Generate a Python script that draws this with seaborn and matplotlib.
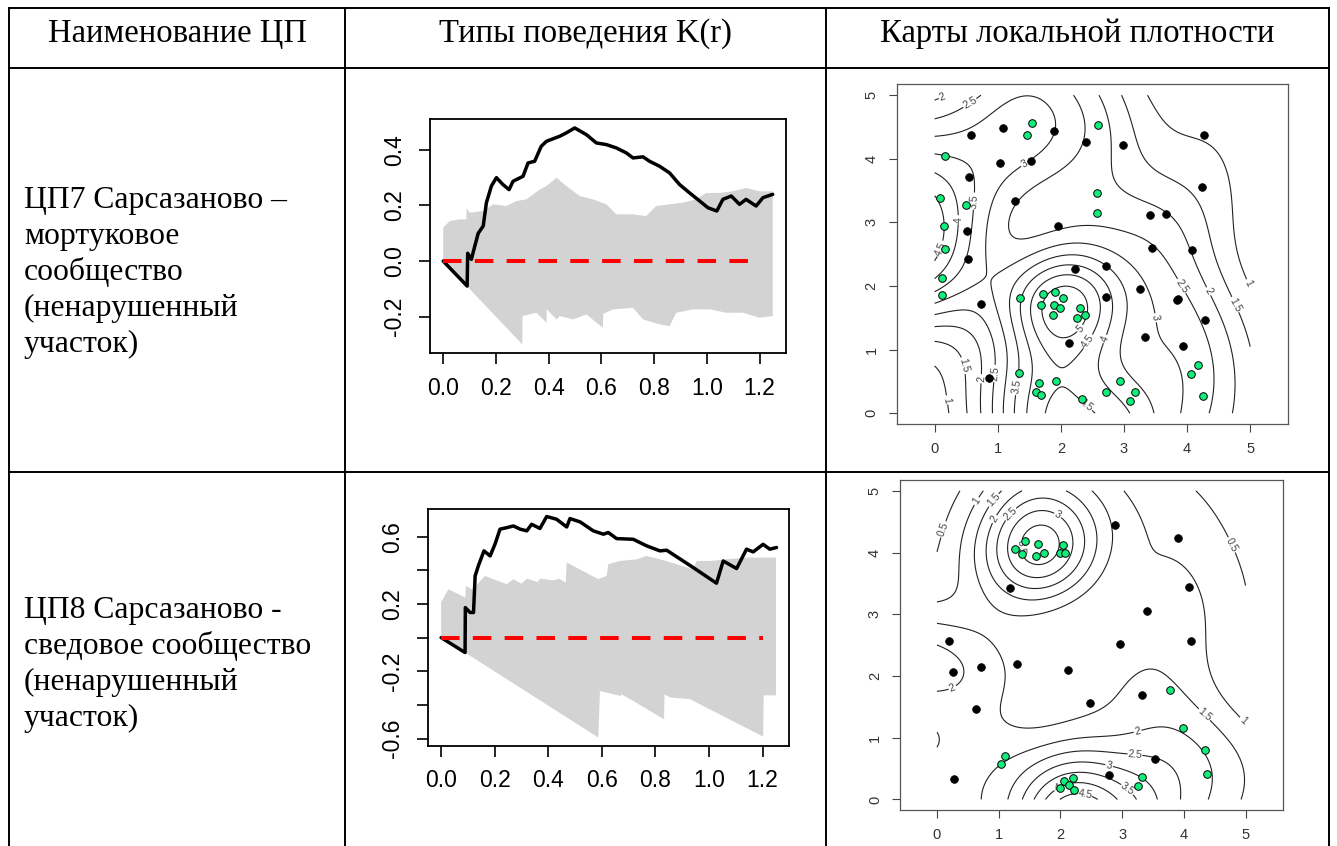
import math
import numpy as np
import pandas as pd
import matplotlib
matplotlib.use("Agg")
import matplotlib.pyplot as plt
import seaborn as sns

# ---------------------------------------------------------------- table text
headers = ["Наименование ЦП", "Типы поведения K(r)", "Карты локальной плотности"]
row1_lines = ["ЦП7 Сарсазаново –", "мортуковое", "сообщество", "(ненарушенный", "участок)"]
row2_lines = ["ЦП8 Сарсазаново -", "сведовое сообщество", "(ненарушенный", "участок)"]

# ---------------------------------------------------------------- K(r), ЦП7
k7_obs_r = [0, 0.091, 0.093, 0.107, 0.120, 0.133, 0.152, 0.164, 0.183, 0.202, 0.227,
            0.250, 0.265, 0.303, 0.322, 0.347, 0.372, 0.392, 0.442, 0.467, 0.499,
            0.543, 0.581, 0.619, 0.657, 0.695, 0.720, 0.758, 0.783, 0.821, 0.859,
            0.897, 0.935, 0.973, 1.004, 1.038, 1.061, 1.093, 1.124, 1.149, 1.187,
            1.213, 1.25]
k7_obs_v = [0, -0.09, 0.028, 0.006, 0.054, 0.10, 0.126, 0.21, 0.27, 0.30, 0.275,
            0.257, 0.287, 0.305, 0.353, 0.359, 0.413, 0.431, 0.449, 0.461, 0.479,
            0.455, 0.425, 0.419, 0.407, 0.389, 0.371, 0.375, 0.359, 0.341, 0.317,
            0.275, 0.245, 0.216, 0.192, 0.180, 0.222, 0.234, 0.204, 0.222, 0.198,
            0.228, 0.240]
k7_hi_r = [0, 0.025, 0.063, 0.088, 0.089, 0.10, 0.152, 0.19, 0.24, 0.278, 0.316,
           0.366, 0.392, 0.43, 0.467, 0.518, 0.568, 0.619, 0.657, 0.72, 0.77,
           0.808, 0.859, 0.909, 0.96, 0.998, 1.048, 1.099, 1.149, 1.2, 1.25]
k7_hi_v = [0.12, 0.144, 0.15, 0.15, 0.19, 0.174, 0.18, 0.204, 0.198, 0.216, 0.222,
           0.257, 0.27, 0.30, 0.27, 0.234, 0.222, 0.204, 0.168, 0.168, 0.162,
           0.198, 0.204, 0.21, 0.222, 0.245, 0.245, 0.251, 0.263, 0.251, 0.251]
k7_lo_r = [0, 0.09, 0.30, 0.301, 0.354, 0.392, 0.393, 0.43, 0.442, 0.493, 0.543,
           0.606, 0.607, 0.644, 0.72, 0.758, 0.821, 0.859, 0.884, 0.947, 1.011,
           1.074, 1.137, 1.2, 1.25]
k7_lo_v = [0, -0.09, -0.30, -0.198, -0.186, -0.222, -0.174, -0.21, -0.198, -0.21,
           -0.192, -0.24, -0.19, -0.174, -0.168, -0.21, -0.228, -0.234, -0.186,
           -0.174, -0.174, -0.186, -0.186, -0.204, -0.198]

# ---------------------------------------------------------------- K(r), ЦП8
k8_obs_r = [0, 0.0895, 0.0905, 0.108, 0.121, 0.127, 0.139, 0.160, 0.183, 0.201,
            0.220, 0.245, 0.270, 0.295, 0.320, 0.338, 0.369, 0.394, 0.431, 0.469,
            0.481, 0.519, 0.568, 0.606, 0.624, 0.655, 0.717, 0.767, 0.817, 0.842,
            0.941, 1.028, 1.053, 1.103, 1.140, 1.165, 1.202, 1.227, 1.252]
k8_obs_v = [0, -0.089, 0.178, 0.149, 0.149, 0.366, 0.426, 0.515, 0.485, 0.554,
            0.644, 0.653, 0.663, 0.644, 0.634, 0.673, 0.648, 0.719, 0.703, 0.657,
            0.707, 0.687, 0.634, 0.614, 0.624, 0.588, 0.584, 0.545, 0.515, 0.519,
            0.416, 0.323, 0.455, 0.41, 0.525, 0.509, 0.554, 0.525, 0.535]
k8_hi_r = [0, 0.027, 0.09, 0.093, 0.127, 0.131, 0.164, 0.245, 0.270, 0.30, 0.32,
           0.36, 0.37, 0.42, 0.44, 0.465, 0.469, 0.587, 0.618, 0.624, 0.668,
           0.730, 0.767, 0.817, 0.879, 0.941, 0.954, 1.004, 1.066, 1.140, 1.25]
k8_hi_v = [0.21, 0.287, 0.238, 0.307, 0.277, 0.31, 0.366, 0.317, 0.347, 0.32, 0.35,
           0.33, 0.35, 0.34, 0.35, 0.327, 0.446, 0.347, 0.366, 0.436, 0.455,
           0.465, 0.485, 0.465, 0.436, 0.406, 0.455, 0.455, 0.465, 0.475, 0.475]
k8_lo_r = [0, 0.0895, 0.587, 0.593, 0.670, 0.674, 0.717, 0.832, 0.834, 0.855,
           0.929, 1.202, 1.204, 1.25]
k8_lo_v = [0, -0.089, -0.594, -0.317, -0.347, -0.337, -0.376, -0.485, -0.337,
           -0.356, -0.366, -0.588, -0.343, -0.343]

# ---------------------------------------------------------------- point maps
m7_black_x = [0.58, 1.09, 1.89, 2.40, 2.98, 4.27, 1.03, 1.52, 0.55, 4.24, 1.28, 3.41,
              3.66, 0.52, 1.95, 0.53, 3.44, 4.08, 2.23, 2.72, 3.25, 0.73, 2.72, 3.86,
              3.84, 4.28, 2.13, 3.34, 3.93, 0.86]
m7_black_y = [4.38, 4.48, 4.44, 4.26, 4.22, 4.38, 3.94, 3.96, 3.71, 3.55, 3.33, 3.11,
              3.13, 2.86, 2.94, 2.43, 2.59, 2.57, 2.26, 2.32, 1.95, 1.71, 1.83, 1.80,
              1.78, 1.46, 1.11, 1.20, 1.06, 0.55]
m7_green_x = [1.54, 1.46, 2.59, 0.16, 0.08, 0.50, 0.15, 0.16, 0.12, 0.12, 2.57, 2.57,
              1.36, 1.71, 1.91, 2.03, 1.69, 1.89, 1.99, 1.88, 2.31, 2.38, 2.26, 1.33,
              1.65, 1.93, 1.61, 1.69, 2.34, 2.71, 2.94, 3.18, 3.09, 4.17, 4.07, 4.25]
m7_green_y = [4.56, 4.38, 4.53, 4.04, 3.39, 3.27, 2.94, 2.58, 2.12, 1.86, 3.46, 3.15,
              1.81, 1.88, 1.90, 1.81, 1.70, 1.70, 1.66, 1.54, 1.65, 1.55, 1.49, 0.63,
              0.47, 0.50, 0.33, 0.29, 0.23, 0.34, 0.50, 0.33, 0.19, 0.76, 0.61, 0.27]

m8_black_x = [2.89, 3.90, 1.19, 4.09, 3.40, 0.19, 4.11, 2.97, 0.26, 0.71, 1.30, 2.12,
              3.33, 2.48, 0.64, 3.54, 2.78, 0.28]
m8_black_y = [4.44, 4.24, 3.43, 3.44, 3.05, 2.56, 2.56, 2.52, 2.07, 2.14, 2.20, 2.10,
              1.69, 1.56, 1.47, 0.65, 0.40, 0.33]
m8_green_x = [1.43, 1.27, 1.37, 1.63, 1.60, 1.74, 2.04, 1.99, 2.08, 3.77, 3.98, 4.35,
              4.38, 1.10, 1.04, 3.33, 3.26, 2.06, 2.21, 2.14, 2.00, 2.22]
m8_green_y = [4.19, 4.05, 3.97, 4.14, 3.95, 3.99, 4.12, 4.00, 3.99, 1.77, 1.15, 0.80,
              0.42, 0.71, 0.57, 0.36, 0.22, 0.30, 0.35, 0.24, 0.19, 0.16]

GREEN = "#12EE7C"
GRAY_ENV = "#D3D3D3"

sns.set_theme(style="ticks")
plt.rcParams["font.family"] = ["Liberation Sans", "DejaVu Sans"]
plt.rcParams["text.color"] = "black"

fig = plt.figure(figsize=(13.37, 8.46), dpi=100)

# ---------------------------------------------------------------- table frame
base = fig.add_axes([0, 0, 1, 1])
base.set_xlim(0, 1337)
base.set_ylim(846, 0)
base.axis("off")
lw_tab = 1.4
for y in (8, 68, 472):
    base.plot([9, 1329], [y, y], color="black", lw=lw_tab, solid_capstyle="projecting")
for x in (9, 345, 826, 1329):
    base.plot([x, x], [8, 846], color="black", lw=lw_tab, solid_capstyle="projecting")

serif = ["Liberation Serif", "DejaVu Serif"]
for cx, txt in zip((177, 585, 1077), headers):
    base.text(cx, 42, txt, ha="center", va="baseline", fontsize=23.5, family=serif,
              color="black")
for i, line in enumerate(row1_lines):
    base.text(24, 208 + 36 * i, line, ha="left", va="baseline", fontsize=22.8,
              family=serif, color="black")
for i, line in enumerate(row2_lines):
    base.text(24, 618 + 36 * i, line, ha="left", va="baseline", fontsize=22.8,
              family=serif, color="black")


# ---------------------------------------------------------------- K(r) panels
def k_panel(rect, obs_r, obs_v, hi_r, hi_v, lo_r, lo_v, ylim, yticks, ylabels):
    ax = fig.add_axes(rect)
    env_x = np.r_[hi_r, lo_r[::-1]]
    env_y = np.r_[hi_v, lo_v[::-1]]
    ax.fill(env_x, env_y, color=GRAY_ENV, lw=0, zorder=1)
    obs = pd.DataFrame({"r": obs_r, "K": obs_v})
    sns.lineplot(data=obs, x="r", y="K", ax=ax, color="black", lw=2.5,
                 sort=False, estimator=None, zorder=3)
    theo = pd.DataFrame({"r": [0, 1.2], "K": [0, 0]})
    sns.lineplot(data=theo, x="r", y="K", ax=ax, color="#FF0000", lw=2.9,
                 linestyle=(0, (4.6, 3.3)), dash_capstyle="butt",
                 sort=False, estimator=None, zorder=4)
    ax.set_xlim(-0.05, 1.30)
    ax.set_ylim(*ylim)
    ax.set_xticks([0, 0.2, 0.4, 0.6, 0.8, 1.0, 1.2])
    ax.set_xticklabels(["0.0", "0.2", "0.4", "0.6", "0.8", "1.0", "1.2"])
    ax.set_yticks(yticks)
    ax.set_yticklabels(ylabels, rotation=90, va="center")
    ax.set_xlabel("")
    ax.set_ylabel("")
    ax.tick_params(direction="out", length=8, width=1.2, labelsize=16.5, pad=9,
                   colors="black")
    for s in ax.spines.values():
        s.set_visible(True)
        s.set_linewidth(1.3)
        s.set_color("black")
    return ax


k_panel([0.3216, 0.5827, 0.2662, 0.2766],
        k7_obs_r, k7_obs_v, k7_hi_r, k7_hi_v, k7_lo_r, k7_lo_v,
        (-0.331, 0.511), [-0.2, 0.0, 0.2, 0.4], ["-0.2", "0.0", "0.2", "0.4"])
k_panel([0.3199, 0.1186, 0.2705, 0.2794],
        k8_obs_r, k8_obs_v, k8_hi_r, k8_hi_v, k8_lo_r, k8_lo_v,
        (-0.642, 0.762), [-0.6, -0.4, -0.2, 0.0, 0.2, 0.4, 0.6],
        ["-0.6", "", "-0.2", "", "0.2", "", "0.6"])


# ---------------------------------------------------------------- density maps
_erf = np.vectorize(math.erf)


def kernel_intensity(px, py, gx, gy, sigma=0.625, lo=0.0, hi=5.0):
    """Gaussian kernel intensity with uniform edge correction on [lo, hi]^2."""
    px = np.asarray(px)[None, None, :]
    py = np.asarray(py)[None, None, :]
    d2 = (gx[..., None] - px) ** 2 + (gy[..., None] - py) ** 2
    k = np.exp(-d2 / (2 * sigma ** 2)).sum(-1) / (2 * np.pi * sigma ** 2)
    s2 = sigma * math.sqrt(2)
    mx = 0.5 * (_erf((hi - gx) / s2) - _erf((lo - gx) / s2))
    my = 0.5 * (_erf((hi - gy) / s2) - _erf((lo - gy) / s2))
    return k / (mx * my)


def map_panel(rect, bx, by, gxp, gyp, levels):
    ax = fig.add_axes(rect)
    grid = np.linspace(0, 5, 121)
    GX, GY = np.meshgrid(grid, grid)
    Z = kernel_intensity(np.r_[bx, gxp], np.r_[by, gyp], GX, GY)
    cs = ax.contour(GX, GY, Z, levels=levels, colors="#222222", linewidths=0.8)
    ax.clabel(cs, fmt=lambda v: f"{v:g}", fontsize=7.5, inline=True, inline_spacing=2,
              colors="#444444")
    pts = pd.DataFrame({"x": np.r_[bx, gxp], "y": np.r_[by, gyp],
                        "kind": ["b"] * len(bx) + ["g"] * len(gxp)})
    sns.scatterplot(data=pts[pts.kind == "b"], x="x", y="y", ax=ax, color="black",
                    s=30, edgecolor="black", linewidth=0.6, zorder=5)
    sns.scatterplot(data=pts[pts.kind == "g"], x="x", y="y", ax=ax, color=GREEN,
                    s=30, edgecolor="black", linewidth=0.7, zorder=6)
    ax.set_xlim(-0.6, 5.6)
    ax.set_ylim(-0.17, 5.17)
    ax.set_xticks(range(6))
    ax.set_yticks(range(6))
    ax.set_yticklabels([str(i) for i in range(6)], rotation=90, va="center")
    ax.set_xlabel("")
    ax.set_ylabel("")
    ax.tick_params(direction="out", length=6, width=0.8, labelsize=10.5, pad=7,
                   colors="#444444", labelcolor="#333333")
    for s in ax.spines.values():
        s.set_visible(True)
        s.set_linewidth(0.9)
        s.set_color("#555555")
    return ax


map_panel([0.6707, 0.4988, 0.2927, 0.4015],
          m7_black_x, m7_black_y, m7_green_x, m7_green_y,
          np.arange(1.0, 5.51, 0.5))
map_panel([0.6731, 0.0426, 0.2862, 0.3897],
          m8_black_x, m8_black_y, m8_green_x, m8_green_y,
          np.arange(0.5, 5.01, 0.5))

fig.savefig("out.png", dpi=100)
